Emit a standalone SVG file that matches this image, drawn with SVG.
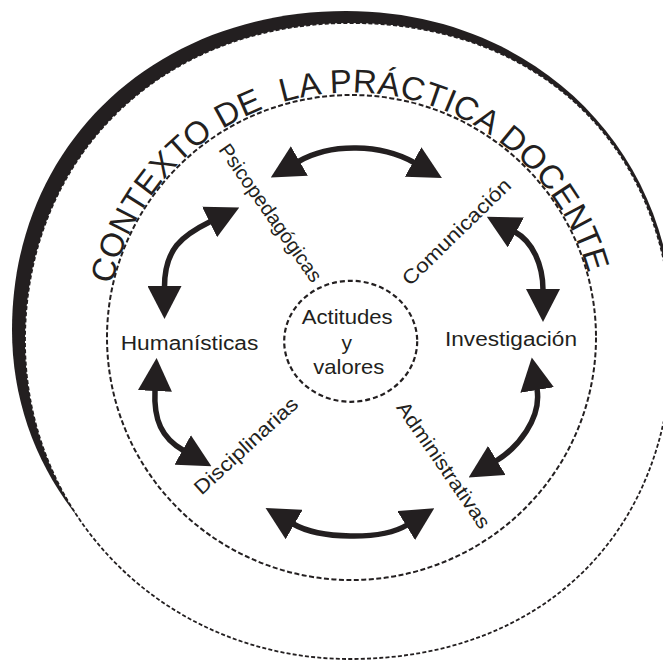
<svg xmlns="http://www.w3.org/2000/svg" width="663" height="660" viewBox="0 0 663 660">
<style>
.lbl{font-family:"Liberation Sans",Arial,Helvetica,sans-serif;fill:#231f20}
.ring{fill:none;stroke:#231f20;stroke-width:2;stroke-dasharray:5 2.5}
.outer{fill:none;stroke:#231f20;stroke-width:1.8;stroke-dasharray:4 2.2}
.arr{fill:none;stroke:#231f20;stroke-width:5.5;marker-start:url(#ah);marker-end:url(#ah)}
</style>
<defs>
<marker id="ah" viewBox="0 0 33 34" refX="1" refY="17" markerWidth="33" markerHeight="34" markerUnits="userSpaceOnUse" orient="auto-start-reverse">
<path d="M0,0 L33,17 L0,34 Z" fill="#231f20"/>
</marker>
<path id="arcPath" d="M107.98,364.38 A245,245 0 1 1 595.99,353.31"/>
<path id="mainShape" d="M25,341 C25,156.6 161.5,23 350,23 C543.2,23 672,150.2 672,341 C672,531.8 543.2,659 350,659 C168,659 25,519.1 25,341 Z"/>
</defs>
<rect width="663" height="660" fill="#ffffff"/>
<g id="context">
<path d="M12,330 C12,146 153,11 346,11 C533,11 674,148.2 674,330 C674,485 509.5,640 345,640 C158.5,640 12,503.6 12,330 Z" fill="#231f20"/>
<use href="#mainShape" fill="#ffffff"/>
<use href="#mainShape" class="outer"/>
<text class="lbl" font-size="33" letter-spacing="0.37" xml:space="preserve" style="white-space:pre"><textPath href="#arcPath" startOffset="50%" text-anchor="middle">CONTEXTO DE  LA PRÁCTICA DOCENTE</textPath></text>
</g>
<g id="ring">
<ellipse class="ring" cx="351.5" cy="337.5" rx="244.5" ry="242.5"/>
</g>
<g id="node-actitudes">
<ellipse class="ring" cx="350.7" cy="341.3" rx="66.5" ry="60.5" style="stroke-width:2.2;stroke-dasharray:5 3"/>
<text class="lbl" font-size="21" x="301.7" y="324.3" textLength="91" lengthAdjust="spacingAndGlyphs">Actitudes</text>
<text class="lbl" font-size="21" x="346.7" y="350" text-anchor="middle">y</text>
<text class="lbl" font-size="21" x="313.3" y="374.3" textLength="71" lengthAdjust="spacingAndGlyphs">valores</text>
</g>
<g id="node-humanisticas">
<text class="lbl" font-size="20" x="120.7" y="350" textLength="137.6" lengthAdjust="spacingAndGlyphs">Humanísticas</text>
</g>
<g id="node-investigacion">
<text class="lbl" font-size="20" x="445" y="346" textLength="132" lengthAdjust="spacingAndGlyphs">Investigación</text>
</g>
<g id="node-psicopedagogicas">
<text class="lbl" font-size="20" transform="translate(269.9,213.3) rotate(54.9)" x="-81.8" y="6" textLength="163.6" lengthAdjust="spacingAndGlyphs">Psicopedagógicas</text>
</g>
<g id="node-comunicacion">
<text class="lbl" font-size="20" transform="translate(457,232.4) rotate(-44.3)" x="-71.5" y="6" textLength="143" lengthAdjust="spacingAndGlyphs">Comunicación</text>
</g>
<g id="node-disciplinarias">
<text class="lbl" font-size="20" transform="translate(246.6,446.3) rotate(-42.5)" x="-66.5" y="6" textLength="133" lengthAdjust="spacingAndGlyphs">Disciplinarias</text>
</g>
<g id="node-administrativas">
<text class="lbl" font-size="20" transform="translate(443,465.5) rotate(55.4)" x="-74.5" y="6" textLength="149" lengthAdjust="spacingAndGlyphs">Administrativas</text>
</g>
<g id="connectors">
<path class="arr" d="M298.5,161.5 C331.2,142.6 381.1,144.1 414,162.5"/>
<path class="arr" d="M164.5,287 C164.5,249 181.8,235.6 210.5,221.5"/>
<path class="arr" d="M155,390 C153.5,420 161.7,438.3 183.5,450.5"/>
<path class="arr" d="M293.3,524 C319.3,539 381.5,540.7 407,525"/>
<path class="arr" d="M537,389 C541.9,418.6 517.4,448 496,461"/>
<path class="arr" d="M515,232 C532.6,241.5 543,265 543,290"/>
</g>
</svg>
